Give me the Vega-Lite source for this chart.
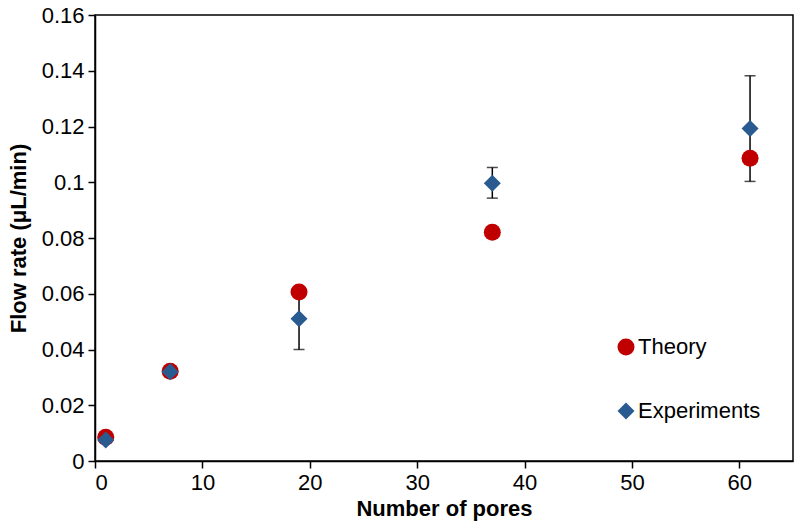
{
  "$schema": "https://vega.github.io/schema/vega-lite/v6.json",
  "width": 698,
  "height": 446,
  "autosize": {"type": "none"},
  "padding": {"left": 95, "top": 15, "right": 6, "bottom": 62},
  "background": "white",
  "config": {
    "font": "Liberation Sans",
    "view": {"stroke": "black", "strokeWidth": 1.5},
    "axis": {
      "grid": false,
      "domainColor": "black",
      "domainWidth": 1.5,
      "tickColor": "black",
      "tickWidth": 1.5,
      "tickSize": 7,
      "labelFont": "Liberation Sans",
      "labelFontSize": 22,
      "labelColor": "black",
      "titleFont": "Liberation Sans",
      "titleFontSize": 22,
      "titleFontWeight": "bold",
      "titleColor": "black"
    },
    "legend": {
      "orient": "none",
      "legendX": 520,
      "legendY": 321,
      "padding": 0,
      "labelFont": "Liberation Sans",
      "labelFontSize": 22,
      "labelColor": "black",
      "symbolSize": 289,
      "rowPadding": 42,
      "labelOffset": 1
    }
  },
  "datasets": {
    "points": [
      {"pores": 1, "rate": 0.0085, "series": "Theory"},
      {"pores": 7, "rate": 0.0322, "series": "Theory"},
      {"pores": 19, "rate": 0.0606, "series": "Theory"},
      {"pores": 37, "rate": 0.0821, "series": "Theory"},
      {"pores": 61, "rate": 0.1086, "series": "Theory"},
      {"pores": 1, "rate": 0.0075, "series": "Experiments"},
      {"pores": 7, "rate": 0.0320, "series": "Experiments"},
      {"pores": 19, "rate": 0.0510, "series": "Experiments"},
      {"pores": 37, "rate": 0.0996, "series": "Experiments"},
      {"pores": 61, "rate": 0.1193, "series": "Experiments"}
    ],
    "errors": [
      {"pores": 19, "lo": 0.0400, "hi": 0.0620},
      {"pores": 37, "lo": 0.0943, "hi": 0.1053},
      {"pores": 61, "lo": 0.1003, "hi": 0.1382}
    ]
  },
  "encoding": {
    "x": {
      "field": "pores",
      "type": "quantitative",
      "scale": {"domain": [0, 65], "nice": false, "zero": false},
      "axis": {"title": "Number of pores", "values": [0, 10, 20, 30, 40, 50, 60], "labelPadding": 4, "titlePadding": 5}
    }
  },
  "layer": [
    {
      "data": {"name": "errors"},
      "mark": {"type": "rule", "color": "black", "strokeWidth": 1.5},
      "encoding": {
        "y": {"field": "lo", "type": "quantitative", "scale": {"domain": [0, 0.16], "nice": false}, "axis": {"title": "Flow rate (μL/min)", "values": [0, 0.02, 0.04, 0.06, 0.08, 0.1, 0.12, 0.14, 0.16], "format": "~g", "labelPadding": 4, "titlePadding": 11}},
        "y2": {"field": "hi"}
      }
    },
    {
      "data": {"name": "errors"},
      "mark": {"type": "tick", "orient": "horizontal", "color": "black", "size": 11, "thickness": 1.5},
      "encoding": {"y": {"field": "lo", "type": "quantitative"}}
    },
    {
      "data": {"name": "errors"},
      "mark": {"type": "tick", "orient": "horizontal", "color": "black", "size": 11, "thickness": 1.5},
      "encoding": {"y": {"field": "hi", "type": "quantitative"}}
    },
    {
      "data": {"name": "points"},
      "mark": {"type": "point", "filled": true, "size": 289, "opacity": 1},
      "encoding": {
        "y": {"field": "rate", "type": "quantitative"},
        "color": {"field": "series", "type": "nominal", "scale": {"domain": ["Theory", "Experiments"], "range": ["#c00000", "#295b91"]}, "legend": {"title": null}},
        "shape": {"field": "series", "type": "nominal", "scale": {"domain": ["Theory", "Experiments"], "range": ["circle", "diamond"]}, "legend": {"title": null}}
      }
    }
  ]
}
